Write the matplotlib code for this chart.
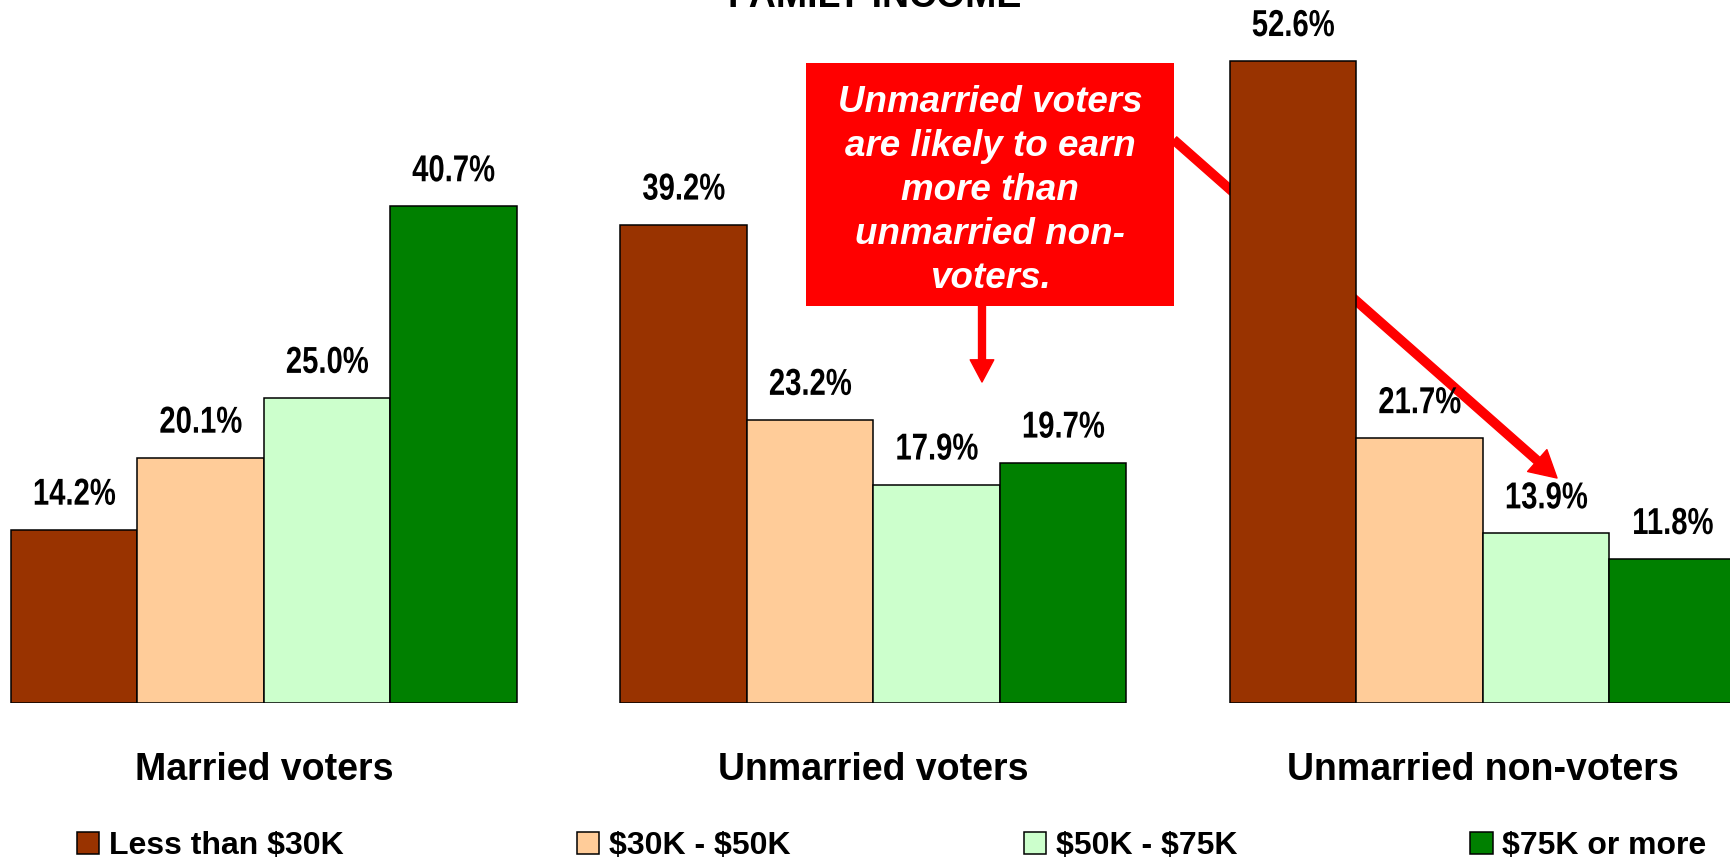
import numpy as np
import matplotlib
matplotlib.use('Agg')
import matplotlib.pyplot as plt
from matplotlib.patches import Patch, Rectangle, FancyArrowPatch
from matplotlib.patheffects import AbstractPathEffect
from matplotlib.transforms import Affine2D

# data
groups = ['Married voters', 'Unmarried voters', 'Unmarried non-voters']
income_levels = ['Less than $30K', '$30K - $50K', '$50K - $75K', '$75K or more']
less_30k = [14.2, 39.2, 52.6]
k30_50 = [20.1, 23.2, 21.7]
k50_75 = [25.0, 17.9, 13.9]
k75_more = [40.7, 19.7, 11.8]
colors = ['#993300', '#FFCC99', '#CCFFCC', '#008000']

series = [less_30k, k30_50, k50_75, k75_more]

plt.rcParams['font.family'] = ['Liberation Sans', 'DejaVu Sans']
plt.rcParams['text.parse_math'] = False  # dollar signs are literal


class Squeeze(AbstractPathEffect):
    # the value labels in the original are horizontally squashed Arial
    def __init__(self, sx):
        super().__init__()
        self.sx = sx

    def draw_path(self, renderer, gc, tpath, affine, rgbFace=None):
        ext = tpath.transformed(affine).get_extents()
        cx = (ext.x0 + ext.x1) / 2
        aff = affine + Affine2D().translate(-cx, 0).scale(self.sx, 1).translate(cx, 0)
        renderer.draw_path(gc, tpath, aff, rgbFace)


fig = plt.figure(figsize=(17.31, 8.61), dpi=100)
ax = fig.add_axes([0, 0.1835, 1, 0.8165])

group_step = 4.818
group_x = np.arange(len(groups)) * group_step

for i, vals in enumerate(series):
    x = group_x + i
    ax.bar(x, vals, width=1, align='edge', color=colors[i], edgecolor='black',
           linewidth=1.1, zorder=2)
    for xi, v in zip(x, vals):
        ax.annotate(f'{v:.1f}%', xy=(xi + 0.5, v), xytext=(0, 18), textcoords='offset points',
                    ha='center', va='baseline', fontsize=27, fontweight='bold',
                    path_effects=[Squeeze(0.78)])

for gx, name in zip(group_x, groups):
    ax.annotate(name, xy=(gx + 2, 0), xytext=(0, -55.5), textcoords='offset points',
                ha='center', va='baseline', fontsize=27, fontweight='bold', annotation_clip=False)

ax.set_xlim(-11 / 126.5, (1731 - 11) / 126.5)
ax.set_ylim(0, 57.6)
ax.axis('off')

# title, mostly cut off by the top edge
fig.text(0.5055, 0.9919, 'FAMILY INCOME', ha='center', va='baseline', fontsize=27, fontweight='bold')

# callout box and arrows
ax.add_patch(Rectangle((0.4656, 0.6446), 0.2126, 0.2822, transform=fig.transFigure,
                       facecolor='#FF0000', edgecolor='none', zorder=5, clip_on=False))
ax.text(0.572, 0.779, 'Unmarried voters\nare likely to earn\nmore than\nunmarried non-\nvoters.',
        transform=fig.transFigure, ha='center', va='center', color='white', fontsize=26.5,
        fontweight='bold', style='italic', linespacing=1.33, zorder=6)

down = FancyArrowPatch((0.5673, 0.6446), (0.5673, 0.5563), transform=fig.transFigure,
                       arrowstyle='simple,head_length=16,head_width=17,tail_width=5',
                       mutation_scale=1, color='#FF0000', shrinkA=0, shrinkB=0,
                       zorder=5, clip_on=False)
ax.add_patch(down)
diag = FancyArrowPatch((0.6782, 0.8374), (0.8995, 0.4448), transform=fig.transFigure,
                       arrowstyle='simple,head_length=19,head_width=21,tail_width=6',
                       mutation_scale=1, color='#FF0000', shrinkA=0, shrinkB=0,
                       zorder=1, clip_on=False)
ax.add_patch(diag)

handles = [Patch(facecolor=c, edgecolor='black', linewidth=1.1) for c in colors]
fig.legend(handles, income_levels, loc='center left', bbox_to_anchor=(0.0445, 0.0174),
           ncol=4, frameon=False, borderpad=0, borderaxespad=0, columnspacing=7.3,
           handlelength=0.7, handleheight=0.7, handletextpad=0.3,
           prop={'size': 23, 'weight': 'bold'})

fig.savefig('out.png', dpi=100)
